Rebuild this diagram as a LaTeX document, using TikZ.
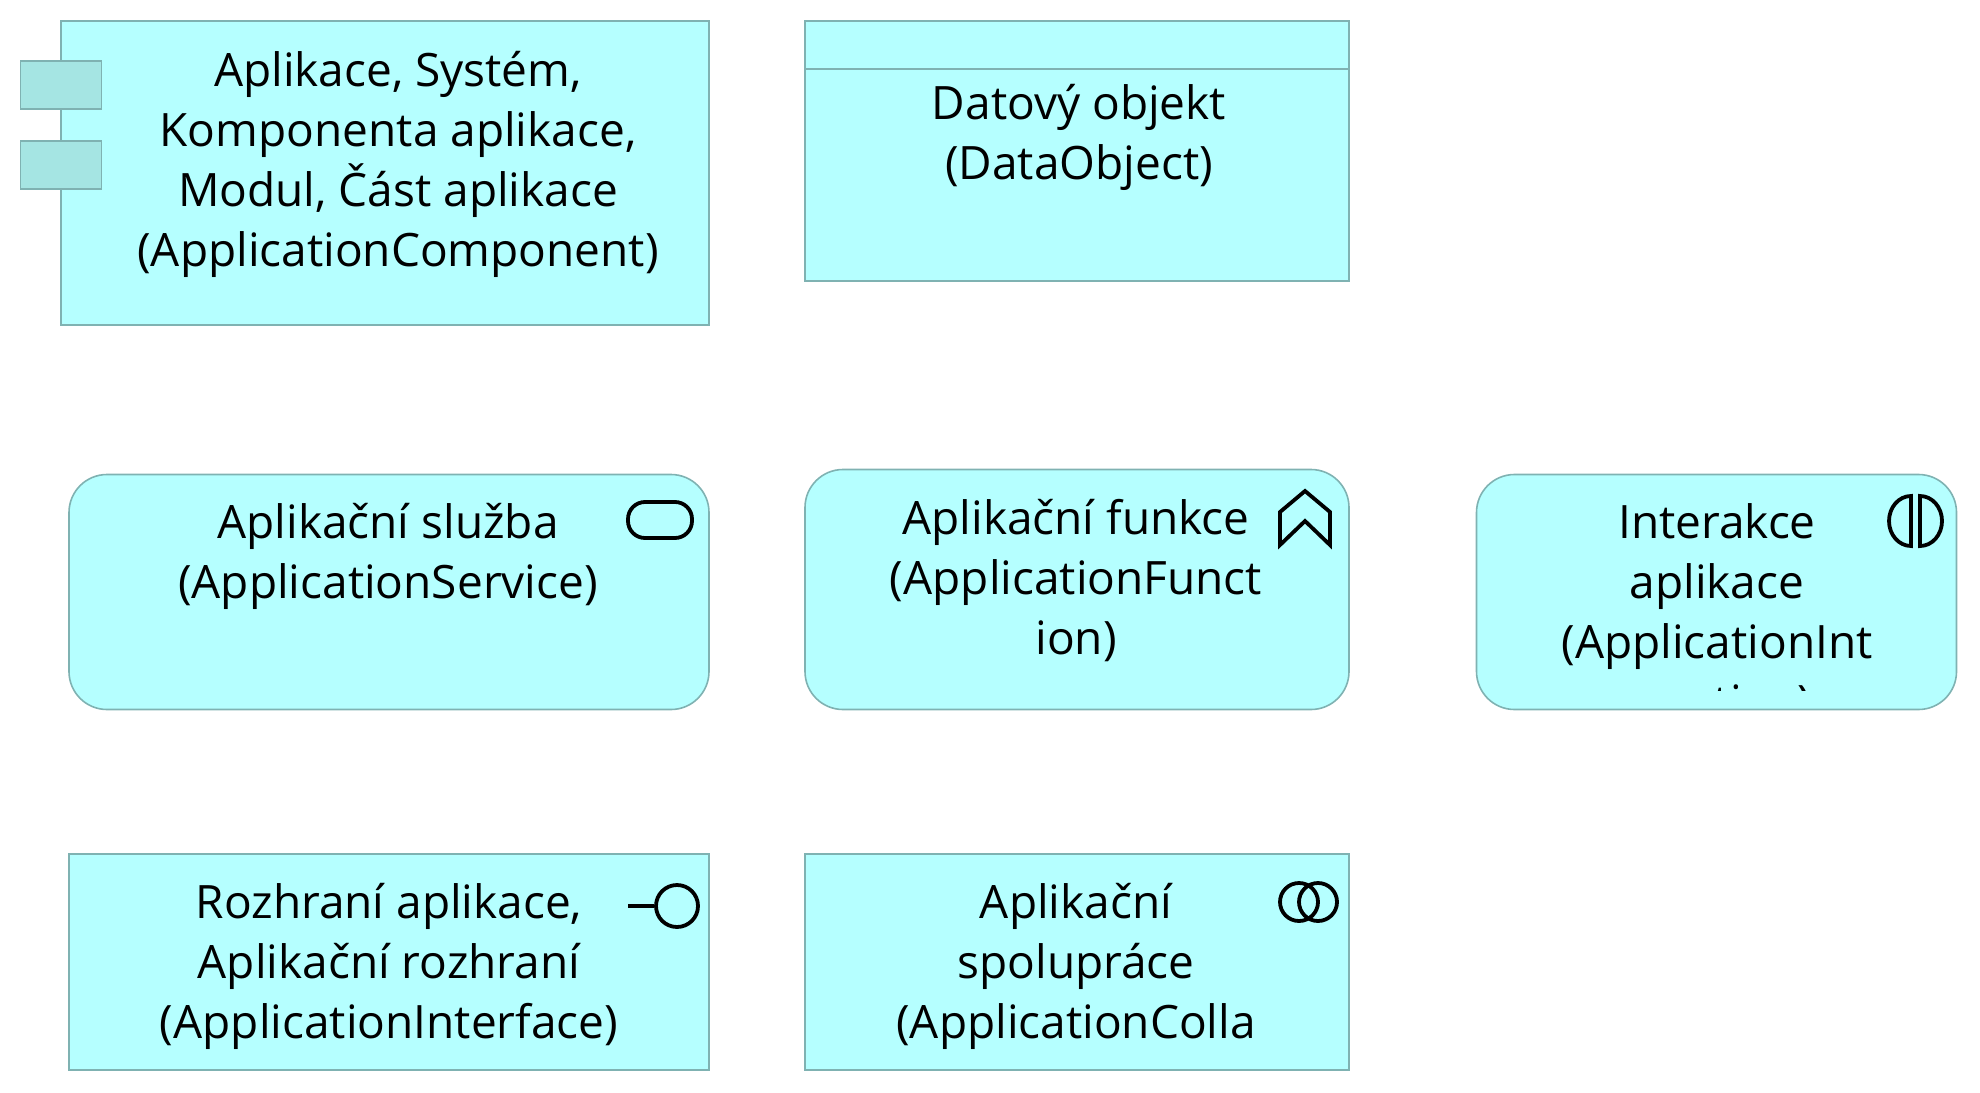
\documentclass[tikz,border=0pt]{standalone}
\usepackage{fontspec}
\setmainfont{Open Sans}
\definecolor{appfill}{HTML}{B5FFFF}
\definecolor{appline}{HTML}{7FB2B2}
\definecolor{tabfill}{HTML}{A5E5E3}
\tikzset{
    appbox/.style={draw=appline, fill=appfill, line width=1.6pt, inner sep=0pt},
    roundbox/.style={appbox, rounded corners=38pt},
    tabbox/.style={draw=appline, fill=tabfill, line width=1.6pt, inner sep=0pt, minimum width=81pt, minimum height=48pt},
    apptext/.style={anchor=north, align=center, inner sep=0pt, font=\fontsize{46}{60}\selectfont},
    icon/.style={line width=3.8pt, black}
}
\begin{document}
\begin{tikzpicture}[x=1pt, y=-1pt]
    \useasboundingbox (0,0) rectangle (1980,1092);
    % first row
    \node (compbox) at (385,173)[appbox, minimum width=648pt, minimum height=304pt]{};
    \node (tabone) at (61,85)[tabbox]{};
    \node (tabtwo) at (61,165)[tabbox]{};
    \node (comptext) at (398,51)[apptext]{Aplikace, Systém,\\Komponenta aplikace,\\Modul, Část aplikace\\(ApplicationComponent)};
    \node (databox) at (1077,151)[appbox, minimum width=544pt, minimum height=260pt]{};
    \draw[draw=appline, line width=1.6pt] (databox.west |- 0,69)--(databox.east |- 0,69);
    \begin{scope}
        \clip (806,20) rectangle (1226,281);
        \node (datatext) at (1079,84)[apptext]{Datový objekt\\(DataObject)};
    \end{scope}
    % second row
    \node (servbox) at (389,592)[roundbox, minimum width=640pt, minimum height=235pt]{};
    \node (servtext) at (388,503.5)[apptext]{Aplikační služba\\(ApplicationService)};
    \draw[icon, rounded corners=17pt] (628,502) rectangle (692,538);
    \node (funcbox) at (1077,589.5)[roundbox, minimum width=544pt, minimum height=240pt]{};
    \node (functext) at (1076,499.5)[apptext]{Aplikační funkce\\(ApplicationFunct\\ion)};
    \draw[icon] (1305,491)--(1330,512)--(1330,545)--(1305,521)--(1280,545)--(1280,512)--cycle;
    \node (interbox) at (1716.5,592)[roundbox, minimum width=480pt, minimum height=235pt]{};
    \begin{scope}
        \clip (1479,474) rectangle (1960,690);
        \node (intertext) at (1717,503.5)[apptext]{Interakce\\aplikace\\(ApplicationInt\\eraction)};
    \end{scope}
    \draw[icon] (1911,496) arc (90:270:22pt and 25pt)--cycle;
    \draw[icon] (1920,496) arc (90:-90:22pt and 25pt)--cycle;
    % third row
    \node (facebox) at (389,962)[appbox, minimum width=640pt, minimum height=216pt]{};
    \node (facetext) at (389,883.5)[apptext]{Rozhraní aplikace,\\Aplikační rozhraní\\(ApplicationInterface)};
    \node (facering) at (677,906)[circle, icon, draw, inner sep=0pt, minimum size=42pt]{};
    \coordinate (facestub) at (628,906);
    \draw[icon] (facestub)--(facering.west);
    \node (colbox) at (1077,962)[appbox, minimum width=544pt, minimum height=216pt]{};
    \begin{scope}
        \clip (806,854) rectangle (1351,1070);
        \node (coltext) at (1076,883.5)[apptext]{Aplikační\\spolupráce\\(ApplicationColla};
    \end{scope}
    \node (colringa) at (1299,902)[circle, icon, draw, inner sep=0pt, minimum size=38pt]{};
    \node (colringb) at (1318,902)[circle, icon, draw, inner sep=0pt, minimum size=38pt]{};
\end{tikzpicture}
\end{document}
